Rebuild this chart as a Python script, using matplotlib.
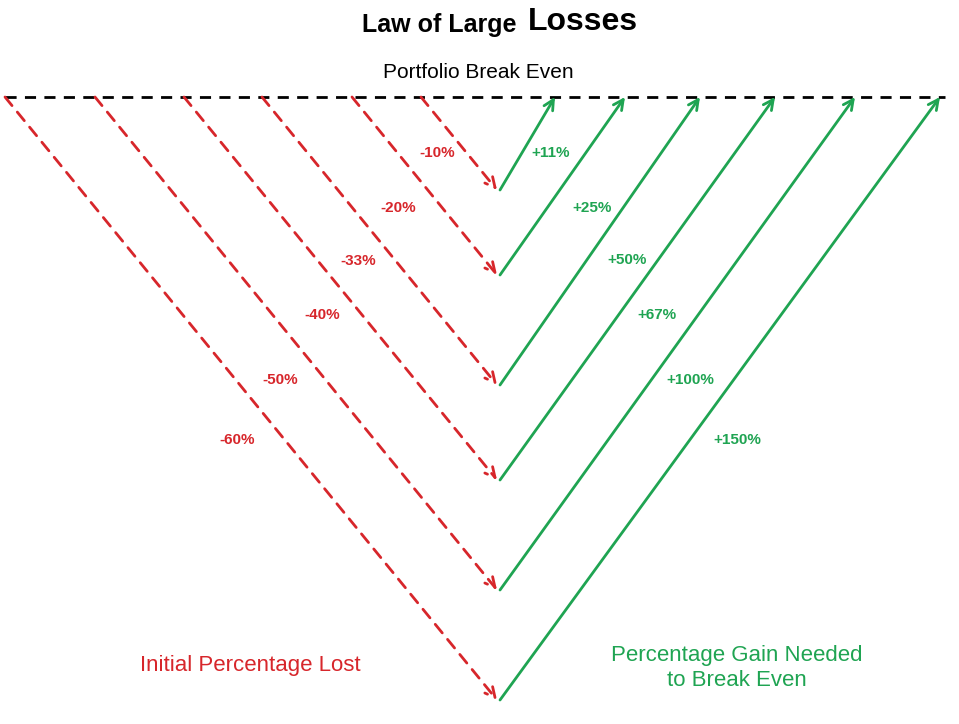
import matplotlib.pyplot as plt

plt.rcParams['font.family'] = ['Liberation Sans', 'DejaVu Sans']

# chart values
losses = [10, 20, 33, 40, 50, 60]
gains = [11, 25, 50, 67, 100, 150]
depth = [93, 178, 288, 383, 493, 603]          # drop below break-even line
red_start = [421, 352, 262, 184, 95, 5]        # where each loss begins
green_end = [555, 625, 700, 775, 855, 940]     # where each recovery ends
red_lbl = [(437, 153), (398, 208), (358, 261), (322, 315), (280, 380), (237, 440)]
green_lbl = [(551, 153), (592, 208), (627, 260), (657, 315), (690, 380), (737, 440)]

RED = '#d7262b'
GREEN = '#1fa452'
BASE = 97
TIP_X = 497

fig = plt.figure(figsize=(9.59, 7.24), dpi=100)
ax = fig.add_axes([0, 0, 1, 1])
ax.set_xlim(0, 959)
ax.set_ylim(724, 0)
ax.axis('off')

ax.plot([5, 945], [BASE, BASE], color='black', ls='--', lw=2, dashes=(4, 3))

for i in range(len(losses)):
    tip_y = BASE + depth[i]
    ax.annotate('', xy=(TIP_X, tip_y), xytext=(red_start[i], BASE),
                arrowprops=dict(arrowstyle='->', color=RED, lw=2, ls=(0, (4, 3)),
                                mutation_scale=18, shrinkA=0, shrinkB=0))
    ax.annotate('', xy=(green_end[i], BASE), xytext=(TIP_X + 3, tip_y),
                arrowprops=dict(arrowstyle='->', color=GREEN, lw=2,
                                mutation_scale=18, shrinkA=0, shrinkB=0))
    ax.text(*red_lbl[i], f'-{losses[i]}%', color=RED, fontsize=11,
            fontweight='bold', ha='center', va='center')
    ax.text(*green_lbl[i], f'+{gains[i]}%', color=GREEN, fontsize=11,
            fontweight='bold', ha='center', va='center')

ax.text(524, 25, 'Law of Large ', fontsize=18, fontweight='bold', ha='right', va='center')
ax.text(528, 22, 'Losses', fontsize=23, fontweight='bold', ha='left', va='center')
ax.text(478, 73, 'Portfolio Break Even', fontsize=15, ha='center', va='center')
ax.text(250, 665, 'Initial Percentage Lost', fontsize=16, color=RED, ha='center', va='center')
ax.text(737, 668, 'Percentage Gain Needed\nto Break Even', fontsize=16, color=GREEN,
        ha='center', va='center', linespacing=1.2)

fig.savefig('out.png', dpi=100)
